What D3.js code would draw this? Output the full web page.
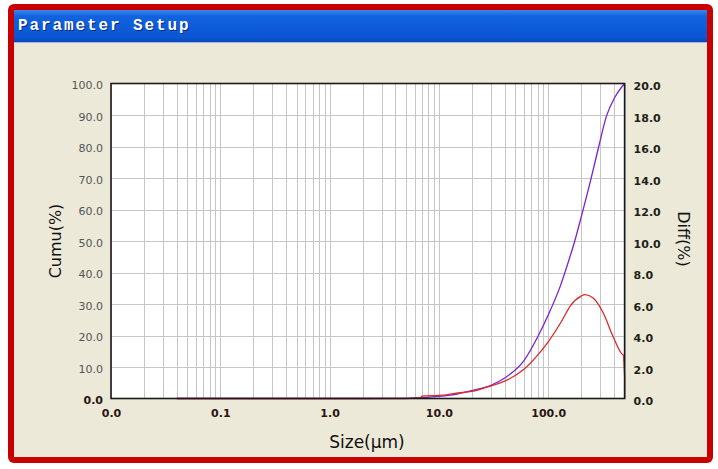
<!DOCTYPE html>
<html>
<head>
<meta charset="utf-8">
<script src="https://cdn.jsdelivr.net/npm/d3@7"></script>
<style>
  body { margin: 0; background: #fff; }
  svg { display: block; }
</style>
</head>
<body>
<div id="wrapper"></div>
<script>
// values
const cumuSize  = [0.04, 0.5, 2, 5, 7, 10, 15, 20, 30, 40, 60, 80, 100, 130, 150, 175, 200, 245, 290, 340, 410, 500];
const cumuValue = [0,    0,   0, 0.05, 0.3, 0.7, 1.5, 2.5, 4.2, 6.5, 12, 19.5, 26.5, 36, 42.5, 50, 57.5, 69.4, 80, 89.5, 95.8, 100];

const diffSize  = [0.04, 5, 6.8, 7, 10, 12, 15, 20, 30, 40, 60, 80, 100, 135, 160, 200, 217, 258, 319, 394, 470, 490, 500, 500];
const diffValue = [0,    0, 0.05, 0.15, 0.2, 0.25, 0.35, 0.45, 0.8, 1.1, 1.85, 2.75, 3.6, 5.0, 5.9, 6.5, 6.6, 6.38, 5.43, 3.9, 2.85, 2.75, 1.4, 0];

const xTicks     = [0.01, 0.1, 1, 10, 100];
const leftTicks  = [0, 10, 20, 30, 40, 50, 60, 70, 80, 90, 100];
const rightTicks = [0, 2, 4, 6, 8, 10, 12, 14, 16, 18, 20];

const width = 718, height = 469;
const plot = { left: 111, right: 624.6, top: 83.5, bottom: 398.5 };

const svg = d3.select("#wrapper").append("svg")
    .attr("width", width)
    .attr("height", height);

// window frame
const defs = svg.append("defs");
const grad = defs.append("linearGradient")
    .attr("id", "titleGrad")
    .attr("x1", 0).attr("y1", 0).attr("x2", 0).attr("y2", 1);
grad.append("stop").attr("offset", "0%").attr("stop-color", "#3b86f0");
grad.append("stop").attr("offset", "20%").attr("stop-color", "#1262df");
grad.append("stop").attr("offset", "85%").attr("stop-color", "#0b56d3");
grad.append("stop").attr("offset", "100%").attr("stop-color", "#0a48bd");

svg.append("rect")
    .attr("x", 8).attr("y", 4)
    .attr("width", 705).attr("height", 459)
    .attr("rx", 6)
    .attr("fill", "#c80000");

svg.append("rect")
    .attr("x", 14).attr("y", 10)
    .attr("width", 693).attr("height", 447)
    .attr("fill", "#ece9d8");

svg.append("rect")
    .attr("x", 14).attr("y", 10)
    .attr("width", 693).attr("height", 32)
    .attr("fill", "url(#titleGrad)");

svg.append("rect")
    .attr("x", 14).attr("y", 42)
    .attr("width", 693).attr("height", 1)
    .attr("fill", "#9bb8e8");

svg.append("text")
    .attr("x", 19).attr("y", 31)
    .attr("fill", "#000a40")
    .attr("opacity", 0.6)
    .style("font-family", "'Liberation Mono', 'DejaVu Sans Mono', monospace")
    .style("font-weight", "bold")
    .style("font-size", "16px")
    .style("letter-spacing", "1.9px")
    .text("Parameter Setup");

svg.append("text")
    .attr("x", 18).attr("y", 30)
    .attr("fill", "#ffffff")
    .style("font-family", "'Liberation Mono', 'DejaVu Sans Mono', monospace")
    .style("font-weight", "bold")
    .style("font-size", "16px")
    .style("letter-spacing", "1.9px")
    .text("Parameter Setup");

// scales
const xScale = d3.scaleLog()
    .domain([0.01, 500])
    .range([plot.left, plot.right]);

const yLeft = d3.scaleLinear()
    .domain([0, 100])
    .range([plot.bottom, plot.top]);

const yRight = d3.scaleLinear()
    .domain([0, 20])
    .range([plot.bottom, plot.top]);

// plot background
svg.append("rect")
    .attr("x", plot.left).attr("y", plot.top)
    .attr("width", plot.right - plot.left)
    .attr("height", plot.bottom - plot.top)
    .attr("fill", "#fff");

// grid
const grid = svg.append("g").attr("stroke", "#c6c6c6").attr("stroke-width", 1);

grid.selectAll(".vgrid")
  .data(xScale.ticks())
  .enter().append("line")
    .attr("x1", d => Math.round(xScale(d)) + 0.5)
    .attr("x2", d => Math.round(xScale(d)) + 0.5)
    .attr("y1", plot.top)
    .attr("y2", plot.bottom);

grid.selectAll(".hgrid")
  .data(leftTicks.slice(1, -1))
  .enter().append("line")
    .attr("x1", plot.left)
    .attr("x2", plot.right)
    .attr("y1", d => Math.round(yLeft(d)) + 0.5)
    .attr("y2", d => Math.round(yLeft(d)) + 0.5);

// curves
const cumuPts = cumuSize.map((s, i) => [xScale(s), yLeft(cumuValue[i])]);
const diffPts = diffSize.map((s, i) => [xScale(s), yRight(diffValue[i])]);

const smooth = d3.line().curve(d3.curveMonotoneX);
const straight = d3.line();

svg.append("path")
    .attr("d", smooth(cumuPts))
    .attr("fill", "none")
    .attr("stroke", "#7b22d6")
    .attr("stroke-width", 1.3);

// the tail of the diff curve drops straight down at the right edge
const dropAt = diffPts.length - 3;
svg.append("path")
    .attr("d", smooth(diffPts.slice(0, dropAt + 1)) + straight(diffPts.slice(dropAt)).replace("M", "L"))
    .attr("fill", "none")
    .attr("stroke", "#dc2a2a")
    .attr("stroke-width", 1.3);

// frame of plot
svg.append("rect")
    .attr("x", plot.left).attr("y", plot.top)
    .attr("width", plot.right - plot.left)
    .attr("height", plot.bottom - plot.top)
    .attr("fill", "none")
    .attr("stroke", "#1a1a1a")
    .attr("stroke-width", 1.6);

// axes
const fmt = d3.format(".1f");

const leftAxis = svg.append("g")
    .attr("transform", `translate(${plot.left},1.5)`)
    .call(d3.axisLeft(yLeft).tickValues(leftTicks).tickFormat(fmt).tickSize(0).tickPadding(8));
leftAxis.select(".domain").remove();
leftAxis.selectAll("text")
    .style("font-family", "'DejaVu Sans', sans-serif")
    .style("font-size", "11px")
    .attr("fill", d => d === 0 ? "#2a1414" : "#555")
    .style("font-weight", d => d === 0 ? "bold" : "normal");

const rightAxis = svg.append("g")
    .attr("transform", `translate(${plot.right},2.5)`)
    .call(d3.axisRight(yRight).tickValues(rightTicks).tickFormat(fmt).tickSize(0).tickPadding(9));
rightAxis.select(".domain").remove();
rightAxis.selectAll("text")
    .style("font-family", "'DejaVu Sans', sans-serif")
    .style("font-size", "11px")
    .style("font-weight", "bold")
    .attr("fill", "#1e2218");

const bottomAxis = svg.append("g")
    .attr("transform", `translate(0,${plot.bottom})`)
    .call(d3.axisBottom(xScale).tickValues(xTicks).tickFormat(fmt).tickSize(0).tickPadding(11));
bottomAxis.select(".domain").remove();
bottomAxis.selectAll("text")
    .style("font-family", "'DejaVu Sans', sans-serif")
    .style("font-size", "11px")
    .style("font-weight", "bold")
    .attr("fill", "#2a1414");

// axis titles
svg.append("text")
    .attr("transform", `translate(61,${(plot.top + plot.bottom) / 2}) rotate(-90)`)
    .attr("text-anchor", "middle")
    .style("font-family", "'DejaVu Sans', sans-serif")
    .style("font-size", "16px")
    .attr("fill", "#111")
    .text("Cumu(%)");

svg.append("text")
    .attr("transform", `translate(678,${(plot.top + plot.bottom) / 2 - 2}) rotate(90)`)
    .attr("text-anchor", "middle")
    .style("font-family", "'DejaVu Sans', sans-serif")
    .style("font-size", "16px")
    .attr("fill", "#111")
    .text("Diff(%)");

svg.append("text")
    .attr("x", 367).attr("y", 448)
    .attr("text-anchor", "middle")
    .style("font-family", "'DejaVu Sans', sans-serif")
    .style("font-size", "17px")
    .attr("fill", "#111")
    .text("Size(μm)");
</script>
</body>
</html>
